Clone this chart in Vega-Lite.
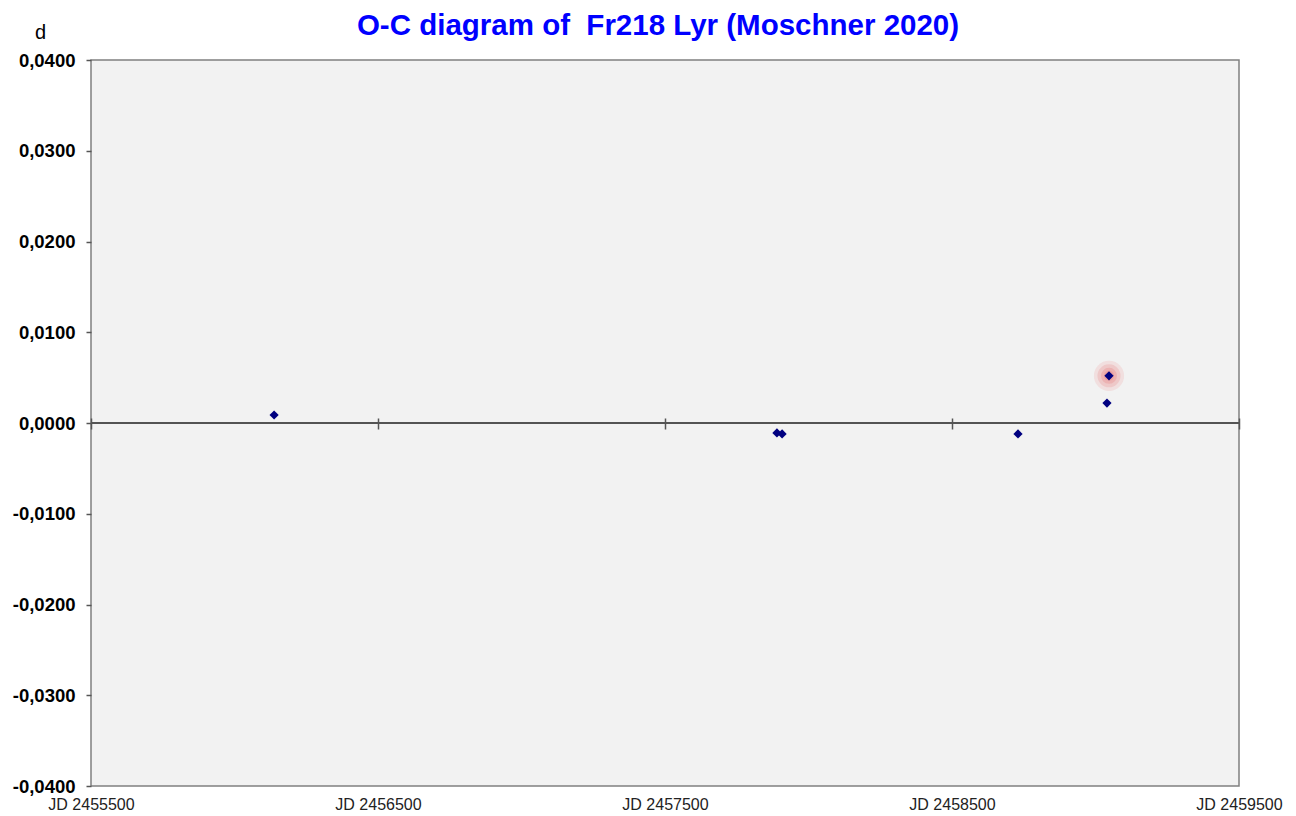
{
  "$schema": "https://vega.github.io/schema/vega-lite/v6.json",
  "width": 1148,
  "height": 726,
  "autosize": {"type": "none"},
  "padding": {"left": 91, "top": 60, "right": 57, "bottom": 30},
  "background": "white",
  "title": {"text": "O-C diagram of \u00a0Fr218 Lyr (Moschner 2020)", "color": "#0000ff", "fontSize": 29.5, "font": "Liberation Sans", "fontWeight": "bold", "offset": -19, "dx": -7},
  "config": {"view": {"fill": "#f2f2f2", "stroke": "#808080", "strokeWidth": 1.5}},
  "data": {"values": [
    {"jd": 2456138, "oc": 0.00088, "highlight": false},
    {"jd": 2457890, "oc": -0.0011, "highlight": false},
    {"jd": 2457908, "oc": -0.0012, "highlight": false},
    {"jd": 2458730, "oc": -0.0012, "highlight": false},
    {"jd": 2459040, "oc": 0.0022, "highlight": false},
    {"jd": 2459047, "oc": 0.0052, "highlight": true}
  ]},
  "resolve": {"axis": {"x": "independent"}},
  "layer": [
    {
      "transform": [{"filter": "datum.highlight"}],
      "mark": {"type": "point", "shape": "circle", "filled": true, "color": "#e87070", "opacity": 0.15, "size": 908},
      "encoding": {
        "x": {"field": "jd", "type": "quantitative", "scale": {"domain": [2455500, 2459500], "nice": false, "zero": false},
          "axis": {"orient": "top", "offset": -369, "labels": false, "domain": false, "ticks": true, "tickSize": 11, "tickColor": "#555555", "tickWidth": 1.5, "values": [2455500, 2456500, 2457500, 2458500, 2459500], "title": null, "grid": false}},
        "y": {"field": "oc", "type": "quantitative", "scale": {"domain": [-0.04, 0.04], "nice": false, "zero": false},
          "axis": {"orient": "left", "domain": false, "ticks": true, "tickSize": 5, "tickColor": "#555555", "tickWidth": 1.5, "labelFontWeight": "bold", "labelFontSize": 18.5, "labelFont": "Liberation Sans", "labelColor": "#000000", "labelPadding": 11, "values": [-0.04, -0.03, -0.02, -0.01, 0, 0.01, 0.02, 0.03, 0.04], "labelExpr": "(datum.value < -0.00001 ? '-' : '') + replace(format(abs(datum.value), '.4f'), '.', ',')", "grid": false, "labelFlush": false, "labelOverlap": false, "labelBound": false,
            "title": "d", "titleAngle": 0, "titleX": -51, "titleY": -28, "titleAlign": "center", "titleBaseline": "middle", "titleFontSize": 20, "titleFont": "Liberation Sans", "titleFontWeight": "normal", "titleColor": "#000000"}}
      }
    },
    {
      "transform": [{"filter": "datum.highlight"}],
      "mark": {"type": "point", "shape": "circle", "filled": true, "color": "#e87070", "opacity": 0.2, "size": 531},
      "encoding": {
        "x": {"field": "jd", "type": "quantitative", "axis": null},
        "y": {"field": "oc", "type": "quantitative"}
      }
    },
    {
      "transform": [{"filter": "datum.highlight"}],
      "mark": {"type": "point", "shape": "circle", "filled": true, "color": "#e87070", "opacity": 0.25, "size": 254},
      "encoding": {
        "x": {"field": "jd", "type": "quantitative", "axis": null},
        "y": {"field": "oc", "type": "quantitative"}
      }
    },
    {
      "transform": [{"filter": "datum.highlight"}],
      "mark": {"type": "point", "shape": "circle", "filled": true, "color": "#e87070", "opacity": 0.25, "size": 100},
      "encoding": {
        "x": {"field": "jd", "type": "quantitative", "axis": null},
        "y": {"field": "oc", "type": "quantitative"}
      }
    },
    {
      "mark": {"type": "rule", "color": "#555555", "strokeWidth": 1.5},
      "encoding": {"y": {"datum": 0, "type": "quantitative"}}
    },
    {
      "mark": {"type": "point", "shape": "diamond", "filled": true, "color": "#000080", "opacity": 1, "size": 85},
      "encoding": {
        "x": {"field": "jd", "type": "quantitative",
          "axis": {"orient": "bottom", "domain": false, "ticks": false, "labelPadding": 10, "labelFontSize": 16, "labelFont": "Liberation Sans", "labelColor": "#222222", "values": [2455500, 2456500, 2457500, 2458500, 2459500], "labelExpr": "'JD ' + datum.value", "title": null, "grid": false, "labelFlush": false, "labelOverlap": false, "labelBound": false}},
        "y": {"field": "oc", "type": "quantitative"}
      }
    }
  ]
}
